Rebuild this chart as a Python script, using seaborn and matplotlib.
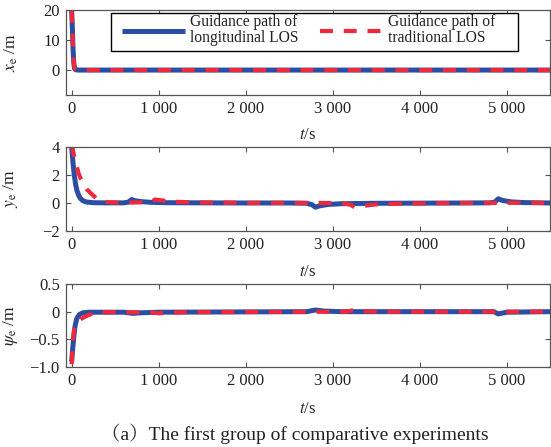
import matplotlib
matplotlib.use("Agg")
import matplotlib.pyplot as plt
from matplotlib.patches import Rectangle
import seaborn as sns
import pandas as pd

# ---------------- data ----------------
t_x = [0, 8, 16, 24, 32, 45, 80, 5500]
x_long = [20, 14, 7, 2.5, 0.6, 0.1, 0, 0]
x_trad = [20, 14.5, 8, 3, 0.8, 0.15, 0, 0]

t_y_long = [0, 15, 30, 45, 60, 80, 100, 130, 170, 250, 400, 600, 650, 690, 730,
            800, 900, 1100, 1500, 2000, 2500, 2700, 2760, 2800, 2850, 2950, 3100,
            3500, 4000, 4500, 4800, 4860, 4900, 4950, 5050, 5200, 5500]
y_long = [4.0, 2.9, 2.0, 1.35, 0.9, 0.55, 0.33, 0.16, 0.07, 0.02, 0.01, 0.01, 0.06,
          0.25, 0.16, 0.1, 0.05, 0.02, 0.01, 0.0, 0.0, -0.02, -0.12, -0.3, -0.2,
          -0.1, -0.05, -0.02, -0.01, 0.0, 0.01, 0.06, 0.3, 0.18, 0.08, 0.03, 0.0]
t_y_trad = [0, 20, 50, 80, 120, 170, 220, 280, 350, 450, 600, 900, 960, 1020, 1150,
            1400, 2000, 3100, 3200, 3250, 3350, 3500, 3800, 4500, 5200, 5500]
y_trad = [4.2, 3.6, 2.8, 2.1, 1.5, 1.0, 0.7, 0.35, 0.12, 0.04, 0.02, 0.06, 0.25, 0.2,
          0.1, 0.04, 0.01, 0.0, -0.12, -0.3, -0.2, -0.1, -0.04, 0.0, 0.02, 0.0]

t_p_long = [0, 10, 25, 40, 60, 90, 130, 200, 600, 700, 800, 1000, 2700, 2800, 2900,
            3100, 4850, 4900, 5000, 5500]
p_long = [-0.9, -0.7, -0.45, -0.25, -0.12, -0.05, -0.02, -0.01, -0.01, -0.03, -0.02,
          -0.01, 0.0, 0.03, 0.01, 0.0, 0.0, -0.04, -0.01, 0.0]
t_p_trad = [0, 10, 25, 50, 80, 120, 180, 250, 350, 900, 1000, 1100, 1300, 3150, 3250,
            3350, 3500, 5500]
p_trad = [-0.95, -0.6, -0.35, -0.2, -0.17, -0.12, -0.07, -0.03, -0.01, -0.01, -0.03,
          -0.02, -0.01, 0.0, 0.03, 0.01, 0.0, 0.0]

x_ticks = [0, 1000, 2000, 3000, 4000, 5000]
x_ticklabels = ["0", "1 000", "2 000", "3 000", "4 000", "5 000"]
yt_top = [0, 10, 20]
yl_top = ["0", "10", "20"]
yt_mid = [-2, 0, 2, 4]
yl_mid = ["\u22122", "0", "2", "4"]
yt_bot = [-1.0, -0.5, 0, 0.5]
yl_bot = ["\u22121.0", "\u22120.5", "0", "0.5"]

series_names = ["Guidance path of\nlongitudinal LOS", "Guidance path of\ntraditional LOS"]
ylabels = [r"$x_{\mathrm{e}}$ /m", r"$y_{\mathrm{e}}$ /m", r"$\psi_{\mathrm{e}}$ /m"]
xlabel = "$t$/s"
caption = "\uff08a\uff09The first group of comparative experiments"

# ---------------- style ----------------
sns.set_theme(style="ticks")
plt.rcParams["font.family"] = ["Liberation Serif", "Noto Serif CJK SC", "Noto Sans CJK SC", "DejaVu Serif"]
plt.rcParams["mathtext.fontset"] = "stix"
plt.rcParams["axes.edgecolor"] = "#555555"
plt.rcParams["axes.linewidth"] = 0.9

BLUE = "#2b4ea3"
RED = "#f0283c"
TXT = "#222222"

fig = plt.figure(figsize=(5.51, 4.47), dpi=100)
W, H = 551, 447
def box(l, t, r, b):
    return [l / W, (H - b) / H, (r - l) / W, (b - t) / H]

ax1 = fig.add_axes(box(66, 10, 550, 95))
ax2 = fig.add_axes(box(66, 147, 550, 231))
ax3 = fig.add_axes(box(66, 284, 550, 367))

panels = [
    (ax1, t_x, x_long, t_x, x_trad, (-8.3, 20), yt_top, yl_top, -0.376),
    (ax2, t_y_long, y_long, t_y_trad, y_trad, (-2, 4), yt_mid, yl_mid, -0.393),
    (ax3, t_p_long, p_long, t_p_trad, p_trad, (-1.0, 0.5), yt_bot, yl_bot, -0.41),
]

for i, (ax, tl, vl, tt, vt, ylim, yt, yl, xlab_y) in enumerate(panels):
    dl = pd.DataFrame({"t": tl, "v": vl})
    dt = pd.DataFrame({"t": tt, "v": vt})
    sns.lineplot(data=dl, x="t", y="v", ax=ax, color=BLUE, lw=3.6,
                 label=series_names[0], solid_capstyle="butt")
    sns.lineplot(data=dt, x="t", y="v", ax=ax, color=RED, lw=3.0,
                 label=series_names[1])
    ax.lines[1].set_dashes((3.1, 2.6))
    ax.set_xlim(-65, 5495)
    ax.set_ylim(*ylim)
    ax.set_xticks(x_ticks)
    ax.set_xticklabels(x_ticklabels)
    ax.set_yticks(yt)
    ax.set_yticklabels(yl)
    ax.tick_params(direction="in", top=True, right=True, length=3.5, width=0.8,
                   color="#555555", labelsize=12, pad=4.5, labelcolor=TXT)
    ax.set_xlabel(xlabel, fontsize=12, color=TXT)
    ax.xaxis.set_label_coords(0.5, xlab_y)
    ax.set_ylabel(ylabels[i], fontsize=12.5, color=TXT)
    ax.yaxis.set_label_coords(-0.095, 0.5)
    for s in ax.spines.values():
        s.set_visible(True)
    if i == 0:
        leg = ax.legend(loc="upper left", bbox_to_anchor=((122 - 66) / 484, (95 - 14.5) / 85),
                        ncol=2, frameon=False, fontsize=11.2, handlelength=4.05,
                        handletextpad=0.33, columnspacing=1.35, borderpad=0,
                        borderaxespad=0)
        for txt in leg.get_texts():
            txt.set_linespacing(0.95)
            txt.set_color(TXT)
        ax.add_patch(Rectangle(((110.7 - 66) / 484, (95 - 50.7) / 85),
                               (518 - 110.7) / 484, (50.7 - 13.3) / 85,
                               transform=ax.transAxes, fill=True, facecolor="white",
                               edgecolor="black", lw=1.0, zorder=4))
        leg.set_zorder(5)
    else:
        ax.get_legend().remove()

fig.text(0.535, (H - 434) / H, caption, ha="center", va="center", fontsize=14,
         color=TXT)

fig.savefig("out.png", dpi=100)
